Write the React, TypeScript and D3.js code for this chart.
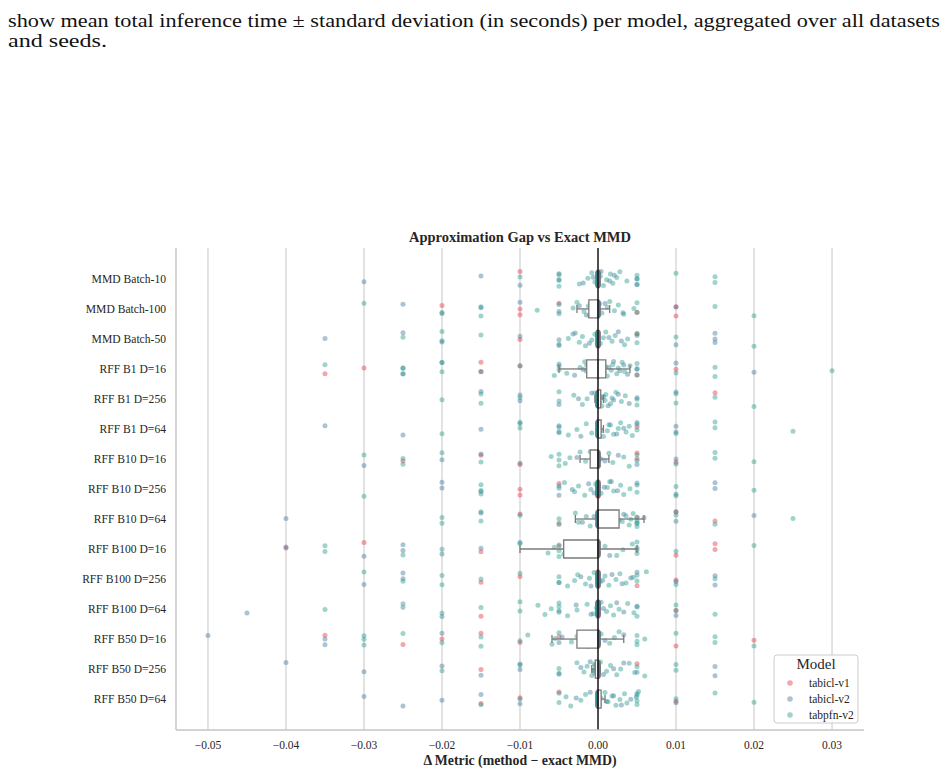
import React from "react";
import * as d3 from "d3";

const methods = [
  "MMD Batch-10",
  "MMD Batch-100",
  "MMD Batch-50",
  "RFF B1 D=16",
  "RFF B1 D=256",
  "RFF B1 D=64",
  "RFF B10 D=16",
  "RFF B10 D=256",
  "RFF B10 D=64",
  "RFF B100 D=16",
  "RFF B100 D=256",
  "RFF B100 D=64",
  "RFF B50 D=16",
  "RFF B50 D=256",
  "RFF B50 D=64",
];
const models = ["tabicl-v1", "tabicl-v2", "tabpfn-v2"];
const modelColors = ["#e63946", "#457b9d", "#2a9d8f"];
const xTicks = [-0.05, -0.04, -0.03, -0.02, -0.01, 0, 0.01, 0.02, 0.03];

// non-zero gaps per method (units of 0.001)
const gapTabiclV1 = [
  [-10],
  [-20, -10, -10, -5, 5, 10, 10],
  [-10, 5],
  [-35, -30, -15, -15, -10, 5, 10],
  [15],
  [5],
  [-25, -15, -10, 5, 5, 10],
  [-10, -10, -5],
  [-10, -5, 5, 10, 15],
  [-40, -30, -15, -5, 10, 15, 15],
  [-15, -10, 5, 10],
  [-15, 10],
  [-35, -25, -20, -15, -10, -5, 10, 20],
  [-15, 5],
  [-15, -10, -5, 10],
];
const gapTabiclV2 = [
  [-30, -15, -10, -5, -5, -1.9, -0.6, 0.4, 1.5, 2.1, 5, 5],
  [-25, -20, -15, -10, -5, -2.4, -1.5, -0.6, 0.9, 3.2, 10],
  [-35, -25, -20, -10, -5, -5, -3.2, -1.1, 1.4, 2.6, 3.0, 5, 10, 15, 15, 15],
  [-25, -25, -20, -15, -5, -3.0, -1.9, -1.0, 0.6, 1.4, 2.0, 2.8, 3.3, 3.8, 5, 10, 20],
  [-15, -10, -10, -5, -2.5, -0.8, 0.2, 0.7, 1.3, 2.0, 2.6, 4.0, 5, 10],
  [-35, -25, -15, -10, -5, -5, -2.2, 0.4, 1.4, 2.4, 3.3, 5, 10, 10],
  [-30, -20, -15, -10, -2.7, -1.0, 0.9, 2.6, 5, 10],
  [-20, -20, -15, -5, -5, -3.3, -1.2, -0.5, 0.8, 1.7, 2.5, 5, 10, 15, 15],
  [-40, -15, -2.0, -0.5, 1.0, 2.7, 3.3, 5, 5.9, 10, 10, 20],
  [-40, -30, -25, -25, -20, -15, -10, -3.5, -0.4, 1.5, 5],
  [-30, -25, -25, -5, -2.2, -0.9, 0.6, 1.8, 3.1, 4.2, 5, 10, 15, 15],
  [-45, -25, -20, -5, -2.8, -0.9, 0.7, 2.4, 3.3, 5, 10],
  [-50, -35, -35, -20, -5, -4.6, -1.3, 0.9, 3.3],
  [-40, -30, -20, -15, -10, -10, -5, -2.2, -1.0, -0.5, -0.35, 0.7, 2.0, 3.3, 5, 15, 15],
  [-30, -25, -20, -15, -10, -2.8, -1.0, 1.1, 2.0, 3.0, 4.2, 5, 10],
];
const gapTabpfnV2 = [
  [-10, -5, -5, -5, -2.4, -1.3, -0.8, -0.4, 0.3, 0.7, 1.1, 1.6, 1.9, 2.4, 2.8, 3.7, 5, 5, 5, 10, 15, 15],
  [-30, -20, -15, -15, -7.8, -5, -5, -3.2, -2.7, -1.8, -1.25, -1.1, -0.3, 0.2, 0.5, 1.2, 1.5, 2.1, 2.6, 3.3, 4.6, 5, 5, 15, 20],
  [-25, -20, -20, -15, -5, -3.8, -2.9, -2.4, -2.0, -1.6, -0.8, -0.4, 0.3, 0.7, 1.0, 1.8, 2.2, 3.4, 3.8, 5, 5, 10, 20],
  [-35, -25, -25, -20, -20, -10, -5.6, -5, -5, -4.0, -2.3, -1.7, -1.5, -1.45, -0.6, -0.2, 0.3, 0.8, 1.0, 1.2, 1.7, 1.9, 2.4, 2.6, 3.1, 3.4, 4.1, 5, 5, 5, 10, 15, 15, 30],
  [-20, -15, -15, -10, -5, -5, -3.1, -2.0, -1.4, -0.4, 0.1, 0.35, 0.5, 0.9, 1.0, 1.6, 1.8, 2.3, 3.0, 3.5, 5, 5, 10, 10, 15, 20],
  [-20, -10, -10, -5, -5, -3.8, -2.7, -1.5, -0.8, 0.2, 0.7, 1.2, 1.6, 2.0, 2.6, 2.9, 3.6, 4.0, 4.4, 5, 5, 10, 15, 15, 25],
  [-30, -25, -25, -20, -15, -6, -5, -5, -5, -4.2, -3.6, -2.3, -1.6, -0.7, -0.3, 0.4, 1.4, 1.9, 3.3, 4.0, 5, 5, 10, 15, 15, 20],
  [-30, -15, -15, -15, -5, -4.3, -3.0, -2.5, -1.7, -0.9, -0.3, 0.4, 1.2, 1.5, 2.0, 2.9, 3.3, 4.1, 5, 5, 10, 10, 20],
  [-20, -20, -15, -15, -10, -5, -5, -2.9, -2.5, -1.5, -1.0, 0.3, 0.6, 1.4, 1.8, 2.2, 3.1, 3.6, 4.0, 4.2, 4.5, 5, 5, 5, 5, 10, 15, 25],
  [-35, -35, -25, -20, -10, -6.4, -5.6, -5, -5, -5, -4.4, -2.6, -1.8, -1.0, 0.9, 2.4, 3.2, 4.4, 5, 5, 5, 10, 20],
  [-30, -25, -20, -20, -15, -10, -5, -5, -3.9, -3.0, -2.6, -1.6, -1.1, -0.5, 0.3, 0.9, 1.4, 2.3, 2.8, 3.6, 4.5, 6.2, 5, 5, 10, 15],
  [-35, -25, -20, -15, -10, -10, -7.7, -6.8, -6.0, -5, -5, -5, -3.9, -2.7, -1.4, -0.6, -0.2, 0.4, 1.1, 1.6, 2.0, 2.7, 3.8, 4.6, 5, 5, 10, 10, 15],
  [-30, -30, -30, -25, -20, -15, -15, -10, -9, -5.9, -5.5, -5, -3.4, -2.7, -2.0, -0.6, 0.4, 1.5, 2.1, 2.7, 5, 5, 5, 6, 10, 15, 15, 20],
  [-20, -10, -5, -5, -2.7, -1.8, -1.4, -0.8, -0.6, -0.45, -0.4, -0.2, 0.3, 1.1, 1.6, 2.4, 2.9, 4.0, 4.7, 5, 6.0, 10, 10],
  [-15, -10, -5, -5, -4.1, -3.5, -2.2, -1.6, 0.15, 0.4, 0.9, 1.3, 1.8, 2.3, 2.8, 3.4, 3.7, 4.9, 5.2, 5, 5, 5, 10, 15, 20],
];
// runs with exactly zero gap per method
const zeroRunsTabiclV1 = [26, 22, 27, 27, 28, 28, 22, 27, 23, 22, 27, 30, 26, 28, 26];
const zeroRunsTabiclV2 = [15, 18, 13, 16, 16, 16, 18, 15, 16, 17, 17, 21, 25, 13, 17];
const zeroRunsTabpfnV2 = [5, 4, 6, 0, 4, 5, 3, 6, 1, 5, 6, 4, 5, 6, 4];

const serif = "Liberation Serif, Times New Roman, serif";

const App = () => {
  const x = d3.scaleLinear().domain([-0.0541, 0.0341]).range([176, 864]);
  const y = d3.scalePoint<string>().domain(methods).range([248, 730]).padding(1.03);
  const fmt = d3.format(".2f");

  const gaps = [gapTabiclV1, gapTabiclV2, gapTabpfnV2];
  const zeros = [zeroRunsTabiclV1, zeroRunsTabiclV2, zeroRunsTabpfnV2];

  const rows = methods.map((m, r) => {
    const groups = gaps.map((g, k) => g[r].concat(new Array(zeros[k][r]).fill(0)).map((v) => v / 1000));
    const all = groups.flat().sort(d3.ascending);
    const q1 = d3.quantile(all, 0.25)!;
    const med = d3.quantile(all, 0.5)!;
    const q3 = d3.quantile(all, 0.75)!;
    const iqr = q3 - q1;
    const lo = d3.min(all.filter((v) => v >= q1 - 1.5 * iqr))!;
    const hi = d3.max(all.filter((v) => v <= q3 + 1.5 * iqr))!;
    return { m, groups, q1, med, q3, lo, hi };
  });

  // vertical strip jitter
  const jit = (j: number, r: number) => ((((j * 0.61803 + r * 0.271) % 1) + 1) % 1 - 0.5) * 15;

  const boxStroke = "#7a7a7a";
  const bh = 9;
  const cap = 4;

  return (
    <svg width={947} height={774} style={{ position: "absolute", left: 0, top: 0 }} fontFamily={serif}>
      <text x={8} y={27} fontSize={18.5} fill="#111" textLength={932} lengthAdjust="spacingAndGlyphs">
        show mean total inference time ± standard deviation (in seconds) per model, aggregated over all datasets
      </text>
      <text x={8} y={47} fontSize={18.5} fill="#111" textLength={99} lengthAdjust="spacingAndGlyphs">
        and seeds.
      </text>

      {xTicks.map((t) => (
        <line key={t} x1={x(t)} x2={x(t)} y1={248} y2={730} stroke="#d4d4d4" strokeWidth={1.3} />
      ))}

      {rows.map((row, r) => {
        let j = 0;
        const cy = y(row.m)!;
        return (
          <g key={row.m}>
            {row.groups.map((vals, k) =>
              vals.map((v) => {
                const dy = jit(j++, r);
                return (
                  <circle key={k + "-" + j} cx={x(v)} cy={cy + dy} r={2.5} fill={modelColors[k]} fillOpacity={0.45} />
                );
              })
            )}
          </g>
        );
      })}

      {rows.map((row) => {
        const cy = y(row.m)!;
        return (
          <g key={"box" + row.m} stroke={boxStroke} strokeWidth={1.3} fill="none">
            <line x1={x(row.lo)} x2={x(row.q1)} y1={cy} y2={cy} />
            <line x1={x(row.q3)} x2={x(row.hi)} y1={cy} y2={cy} />
            <line x1={x(row.lo)} x2={x(row.lo)} y1={cy - cap} y2={cy + cap} />
            <line x1={x(row.hi)} x2={x(row.hi)} y1={cy - cap} y2={cy + cap} />
            <path
              d={`M${x(row.q1)},${cy - bh}H${x(row.q3)}V${cy + bh}H${x(row.q1)}Z`}
              fill="#fff"
            />
            <line x1={x(row.med)} x2={x(row.med)} y1={cy - bh} y2={cy + bh} />
          </g>
        );
      })}

      <line x1={x(0)} x2={x(0)} y1={248} y2={730} stroke="#000" strokeOpacity={0.65} strokeWidth={2} />

      <line x1={176} x2={176} y1={248} y2={730} stroke="#c4c4c4" strokeWidth={1.4} />
      <line x1={176} x2={864} y1={730} y2={730} stroke="#c4c4c4" strokeWidth={1.4} />

      {methods.map((m) => (
        <text key={m} x={166} y={y(m)! + 4} textAnchor="end" fontSize={11.6} fill="#262626">
          {m}
        </text>
      ))}
      {xTicks.map((t) => (
        <text key={"t" + t} x={x(t)} y={749} textAnchor="middle" fontSize={11.5} fill="#262626">
          {fmt(t)}
        </text>
      ))}

      <text x={520} y={242} textAnchor="middle" fontSize={14.5} fontWeight="bold" fill="#262626">
        Approximation Gap vs Exact MMD
      </text>
      <text x={520} y={765} textAnchor="middle" fontSize={13.8} fontWeight="bold" fill="#262626">
        Δ Metric (method − exact MMD)
      </text>

      <g>
        <rect x={774} y={655} width={84} height={68} rx={3} fill="#fff" fillOpacity={0.85} stroke="#cccccc" />
        <text x={816} y={669} textAnchor="middle" fontSize={15} fill="#262626">
          Model
        </text>
        {models.map((name, k) => (
          <g key={name}>
            <circle cx={790} cy={683 + k * 16} r={2.8} fill={modelColors[k]} fillOpacity={0.45} />
            <text x={809} y={687 + k * 16} fontSize={11.5} fill="#262626">
              {name}
            </text>
          </g>
        ))}
      </g>
    </svg>
  );
};

export default App;
